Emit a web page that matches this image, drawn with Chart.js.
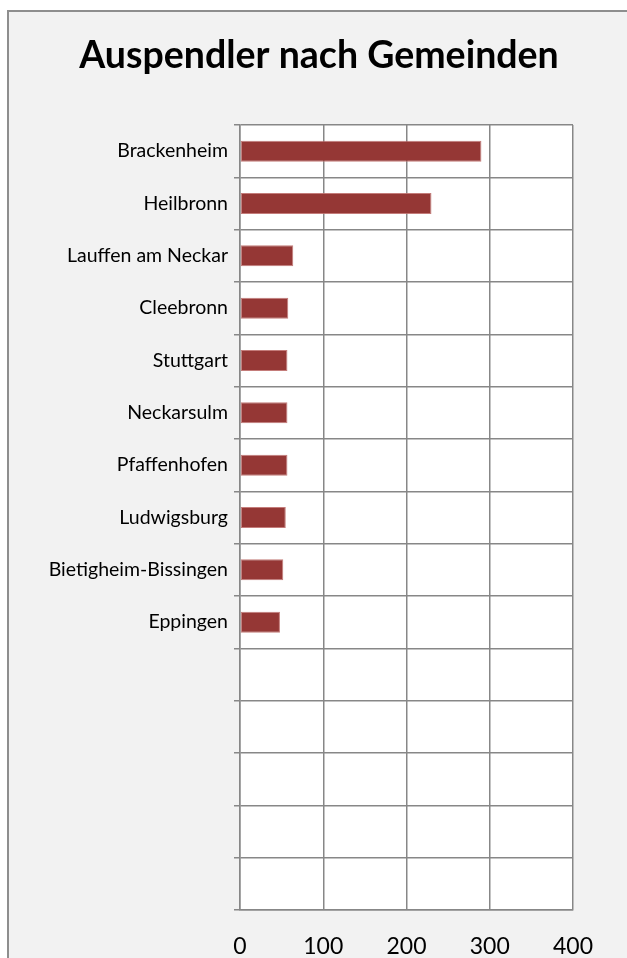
<!DOCTYPE html>
<html>
<head>
<meta charset="utf-8">
<script src="https://cdn.jsdelivr.net/npm/chart.js@4"></script>
<style>
    html, body { margin: 0; padding: 0; background: #ffffff; }
    body { width: 627px; height: 958px; position: relative; overflow: hidden; }
    .frame {
        position: absolute; left: 7px; top: 10px; width: 660px; height: 990px;
        border: 2px solid #8e8e8e; background: #f2f2f2;
    }
    #chartWrap { position: absolute; left: 0; top: 0; width: 627px; height: 958px; }
</style>
</head>
<body>
<div class="frame"></div>
<div id="chartWrap"><canvas id="auspendlerChart"></canvas></div>
<script>
// Chart data
const chartTitle = 'Auspendler nach Gemeinden';
const gemeinden = ['Brackenheim', 'Heilbronn', 'Lauffen am Neckar', 'Cleebronn', 'Stuttgart',
    'Neckarsulm', 'Pfaffenhofen', 'Ludwigsburg', 'Bietigheim-Bissingen', 'Eppingen'];
const auspendler = [290, 230, 64, 58, 57, 57, 57, 55, 52, 48];
const leereZeilen = ['', '', '', '', ''];   // empty rows below the data
const xTicks = [0, 100, 200, 300, 400];

const gridColor = '#878787';
const fontFamily = 'Lato, "Liberation Sans", sans-serif';

// white plot area
const plotBackground = {
    id: 'plotBackground',
    beforeDraw: function(chart) {
        const a = chart.chartArea;
        const ctx = chart.ctx;
        ctx.save();
        ctx.fillStyle = '#ffffff';
        ctx.fillRect(a.left, a.top, a.right - a.left, a.bottom - a.top);
        ctx.restore();
    }
};

// title, centred a little right of the canvas middle like the original
const titlePlugin = {
    id: 'titlePlugin',
    afterDraw: function(chart) {
        const ctx = chart.ctx;
        ctx.save();
        ctx.fillStyle = '#000000';
        ctx.font = 'bold 37.5px ' + fontFamily;
        ctx.textAlign = 'center';
        ctx.textBaseline = 'alphabetic';
        ctx.fillText(chartTitle, 319, 68);
        ctx.restore();
    }
};

document.addEventListener('DOMContentLoaded', function() {
    const ctx = document.getElementById('auspendlerChart').getContext('2d');
    new Chart(ctx, {
        type: 'bar',
        data: {
            labels: gemeinden.concat(leereZeilen),
            datasets: [{
                data: auspendler,
                backgroundColor: '#953735',
                borderColor: 'rgba(190, 110, 108, 0.9)',
                borderWidth: 1,
                borderSkipped: false,
                barPercentage: 0.4,
                categoryPercentage: 1.0
            }]
        },
        options: {
            indexAxis: 'y',
            responsive: true,
            maintainAspectRatio: false,
            animation: false,
            layout: {
                padding: { left: 12, right: 54, top: 125, bottom: 0 }
            },
            scales: {
                x: {
                    min: xTicks[0],
                    max: xTicks[xTicks.length - 1],
                    afterBuildTicks: function(scale) {
                        scale.ticks = xTicks.map(v => ({ value: v }));
                    },
                    afterFit: function(scale) { scale.height = 48; },
                    grid: { color: gridColor, lineWidth: 1.5, drawTicks: false },
                    border: { color: gridColor, width: 1.5 },
                    ticks: {
                        color: '#000000',
                        padding: 23,
                        font: { family: fontFamily, size: 23 }
                    }
                },
                y: {
                    afterFit: function(scale) { scale.width = 228; },
                    grid: { color: gridColor, lineWidth: 1.5, offset: true, tickLength: 6 },
                    border: { color: gridColor, width: 1.5 },
                    ticks: {
                        color: '#000000',
                        padding: 6,
                        autoSkip: false,
                        font: { family: fontFamily, size: 19.5 }
                    }
                }
            },
            plugins: {
                legend: { display: false },
                tooltip: { enabled: false },
                title: { display: false }
            }
        },
        plugins: [plotBackground, titlePlugin]
    });
});
</script>
</body>
</html>
